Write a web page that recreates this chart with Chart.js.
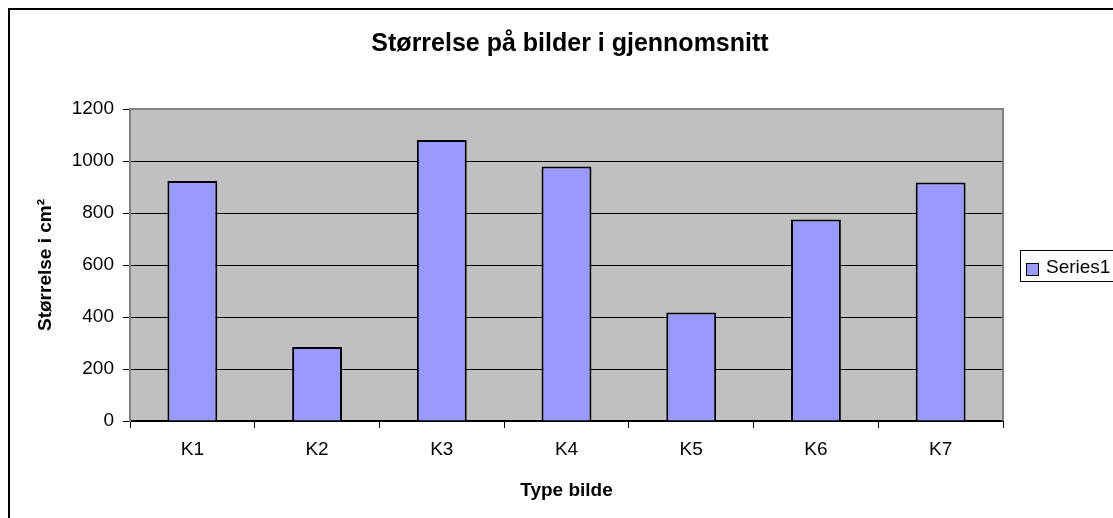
<!DOCTYPE html>
<html>
<head>
<meta charset="utf-8">
<script src="https://cdn.jsdelivr.net/npm/chart.js@4.4.1/dist/chart.umd.min.js"></script>
<style>
  html, body { margin: 0; padding: 0; background: #fff; overflow: hidden; }
  #wrap { position: relative; width: 1113px; height: 518px; }
  #frame { position: absolute; left: 8px; top: 8px; width: 1200px; height: 600px;
           border-top: 2px solid #000; border-left: 2px solid #000; }
  #c { position: absolute; left: 0; top: 0; }
</style>
</head>
<body>
<div id="wrap">
  <div id="frame"></div>
  <canvas id="c" width="1113" height="518"></canvas>
</div>
<script>
/* Størrelse på bilder i gjennomsnitt — single bar series */

const categories = ['K1', 'K2', 'K3', 'K4', 'K5', 'K6', 'K7'];
const sizes      = [923, 285, 1081, 979, 417, 775, 917];
const yTicks     = [0, 200, 400, 600, 800, 1000, 1200];
const seriesName = 'Series1';

const FONT = "'Liberation Sans', Arial, Helvetica, sans-serif";

// grey plot background + border, like the old Excel charts
const plotArea = {
  id: 'plotArea',
  beforeDraw(chart) {
    const { ctx, chartArea: a } = chart;
    ctx.save();
    ctx.fillStyle = '#C0C0C0';
    ctx.fillRect(a.left, a.top, a.right - a.left, a.bottom - a.top);
    ctx.restore();
  },
  beforeDatasetsDraw(chart) {
    const { ctx, chartArea: a } = chart;
    ctx.save();
    ctx.strokeStyle = '#808080';
    ctx.lineWidth = 2;
    ctx.beginPath();
    ctx.moveTo(a.left, a.top);
    ctx.lineTo(a.right, a.top);
    ctx.lineTo(a.right, a.bottom);
    ctx.stroke();
    ctx.restore();
  }
};

// boxed legend on the right, cut by the picture edge
const boxLegend = {
  id: 'boxLegend',
  afterDraw(chart) {
    const { ctx } = chart;
    const ds = chart.data.datasets[0];
    ctx.save();
    ctx.strokeStyle = '#000';
    ctx.lineWidth = 1;
    ctx.strokeRect(1020.5, 250.5, 120, 31);
    ctx.fillStyle = ds.backgroundColor;
    ctx.fillRect(1026, 263, 13, 13);
    ctx.strokeRect(1026.5, 263.5, 12, 12);
    ctx.fillStyle = '#000';
    ctx.font = '19px ' + FONT;
    ctx.textBaseline = 'middle';
    ctx.fillText(ds.label, 1046, 268);
    ctx.restore();
  }
};

new Chart(document.getElementById('c'), {
  type: 'bar',
  data: {
    labels: categories,
    datasets: [{
      label: seriesName,
      data: sizes,
      backgroundColor: '#9999FF',
      borderColor: '#000',
      borderWidth: 2,
      categoryPercentage: 1,
      barPercentage: 0.4,
    }]
  },
  options: {
    responsive: false,
    animation: false,
    layout: { padding: { left: 27, right: 0, top: 0, bottom: 0 } },
    plugins: {
      legend: { display: false },
      tooltip: { enabled: false },
      title: {
        display: true,
        text: 'Størrelse på bilder i gjennomsnitt',
        color: '#000',
        font: { family: FONT, size: 25, weight: 'bold', lineHeight: 1.2 },
        padding: { top: 29, bottom: 50 }
      }
    },
    scales: {
      x: {
        grid: { display: true, drawOnChartArea: false, offset: true, tickLength: 7, tickColor: '#000', tickWidth: 1 },
        border: { color: '#000', width: 2 },
        ticks: { color: '#000', font: { family: FONT, size: 19 }, padding: 10, maxRotation: 0 },
        title: {
          display: true, text: 'Type bilde', color: '#000',
          font: { family: FONT, size: 19, weight: 'bold', lineHeight: 1.2 },
          padding: { top: 0, bottom: 16 }
        },
        afterFit(s) { s.height = 97; }
      },
      y: {
        min: 0,
        max: 1200,
        afterBuildTicks(s) { s.ticks = yTicks.map(v => ({ value: v })); },
        grid: {
          color: c => (c.tick && c.tick.value === 1200) ? '#808080' : '#000',
          lineWidth: 1,
          tickLength: 7,
          tickColor: '#000'
        },
        border: { color: '#808080', width: 2 },
        ticks: {
          color: '#000',
          font: { family: FONT, size: 19 },
          padding: 9,
          callback: v => String(v)
        },
        title: {
          display: true, text: 'Størrelse i cm²', color: '#000',
          font: { family: FONT, size: 19, weight: 'bold', lineHeight: 1.2 },
          padding: { top: 7, bottom: 0 }
        },
        afterFit(s) { s.width = 103; }
      },
      // empty placeholder that keeps room for the legend box
      spacer: {
        type: 'linear',
        position: 'right',
        display: true,
        grid: { display: false },
        border: { display: false },
        ticks: { display: false },
        afterFit(s) { s.width = 110; }
      }
    }
  },
  plugins: [plotArea, boxLegend]
});
</script>
</body>
</html>
